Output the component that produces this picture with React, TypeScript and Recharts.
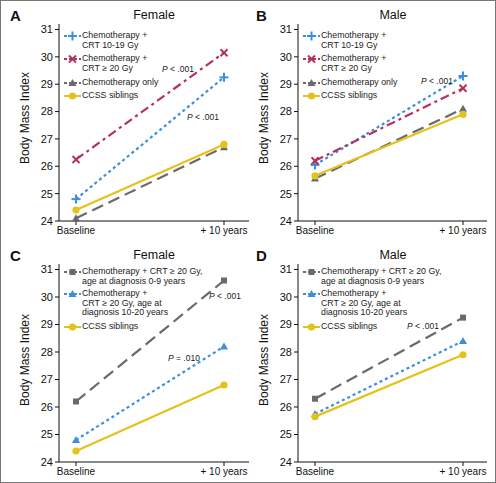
import React from "react";
import { Line, LineChart, XAxis, YAxis } from "recharts";

const timepoints = ["Baseline", "+ 10 years"];
const bmiTicks = [24, 25, 26, 27, 28, 29, 30, 31];

// A — female, by treatment
const femaleCrt1019 = [24.8, 29.25];
const femaleCrt20 = [26.25, 30.15];
const femaleChemoOnly = [24.1, 26.7];
const femaleSiblings = [24.4, 26.8];

// B — male, by treatment
const maleCrt1019 = [26.05, 29.3];
const maleCrt20 = [26.2, 28.85];
const maleChemoOnly = [25.55, 28.1];
const maleSiblings = [25.65, 27.9];

// C — female, CRT >= 20 Gy by age at diagnosis
const femaleAge09 = [26.2, 30.6];
const femaleAge1020 = [24.8, 28.2];

// D — male, CRT >= 20 Gy by age at diagnosis
const maleAge09 = [26.3, 29.25];
const maleAge1020 = [25.75, 28.4];

const BLUE = "#3b8fe0";
const RED = "#b2345a";
const GRAY = "#6a6a6a";
const YELLOW = "#e4c21c";
const FONT = "'Liberation Sans', Arial, Helvetica, sans-serif";

type MarkerKind = "plus" | "cross" | "triangle" | "circle" | "square";

function Marker({ kind, cx, cy, color }: { kind: MarkerKind; cx: number; cy: number; color: string }) {
  if (kind === "plus")
    return (
      <g stroke={color} strokeWidth={2}>
        <line x1={cx - 4.5} y1={cy} x2={cx + 4.5} y2={cy} />
        <line x1={cx} y1={cy - 4.5} x2={cx} y2={cy + 4.5} />
      </g>
    );
  if (kind === "cross")
    return (
      <g stroke={color} strokeWidth={2}>
        <line x1={cx - 3.5} y1={cy - 3.5} x2={cx + 3.5} y2={cy + 3.5} />
        <line x1={cx - 3.5} y1={cy + 3.5} x2={cx + 3.5} y2={cy - 3.5} />
      </g>
    );
  if (kind === "triangle")
    return <polygon points={`${cx},${cy - 4} ${cx - 4},${cy + 3} ${cx + 4},${cy + 3}`} fill={color} />;
  if (kind === "square") return <rect x={cx - 3} y={cy - 3} width={6} height={6} fill={color} />;
  return <circle cx={cx} cy={cy} r={3.6} fill={color} />;
}

interface SeriesDef {
  key: string;
  values: number[];
  color: string;
  dash?: string;
  marker: MarkerKind;
  label: string[];
}

interface PValue {
  text: string;
  x: number;
  y: number;
}

interface PanelProps {
  letter: string;
  title: string;
  left: number;
  top: number;
  height: number;
  axisX: number;
  series: SeriesDef[];
  legendTops: number[];
  pvals: PValue[];
}

const DOT = "3 3";
const DASHDOT = "9 4 3 4";
const LONGDASH = "12 6";

function Panel({ letter, title, left, top, height, axisX, series, legendTops, pvals }: PanelProps) {
  const data = timepoints.map((t, i) => {
    const row: Record<string, string | number> = { t };
    series.forEach((s) => (row[s.key] = s.values[i]));
    return row;
  });
  const plotRight = axisX === 58 ? 248 : 238;
  const bottomExtra = height - 220 - 20;
  const text = { position: "absolute" as const, fontFamily: FONT, color: "#111", whiteSpace: "nowrap" as const };

  return (
    <div style={{ position: "absolute", left, top, width: 248, height }}>
      <LineChart
        width={248}
        height={height}
        data={data}
        margin={{ top: 23, right: 248 - plotRight, bottom: bottomExtra + (height === 240 ? 0 : -1), left: axisX - 40 }}
      >
        <XAxis
          dataKey="t"
          padding={{ left: 17, right: plotRight - axisX - 17 - 148 }}
          tick={{ fill: "#111", fontSize: 10, fontFamily: FONT }}
          tickLine={{ stroke: "#111" }}
          axisLine={{ stroke: "#111" }}
          tickSize={4}
          height={20}
        />
        <YAxis
          domain={[24, 31.2]}
          ticks={bmiTicks}
          width={40}
          tick={{ fill: "#111", fontSize: 11, fontFamily: FONT }}
          tickLine={{ stroke: "#111" }}
          axisLine={{ stroke: "#111" }}
          tickSize={4}
        />
        {series.map((s) => (
          <Line
            key={s.key}
            dataKey={s.key}
            stroke={s.color}
            strokeWidth={2.2}
            strokeDasharray={s.dash}
            isAnimationActive={false}
            dot={(p: any) => <Marker key={`${s.key}-${p.index}`} kind={s.marker} cx={p.cx} cy={p.cy} color={s.color} />}
            activeDot={false}
          />
        ))}
      </LineChart>

      <div style={{ ...text, left: letter === "A" || letter === "C" ? 9 : 7, top: 6, fontSize: 15, fontWeight: 700 }}>
        {letter}
      </div>
      <div style={{ ...text, left: axisX + 95, top: 7, fontSize: 12.5, transform: "translateX(-50%)" }}>{title}</div>
      <div
        style={{
          ...text,
          left: axisX - 34,
          top: height / 2 - 3,
          fontSize: 12,
          transform: "translate(-50%, -50%) rotate(-90deg)",
        }}
      >
        Body Mass Index
      </div>

      {series.map((s, i) => (
        <div key={s.key} style={{ position: "absolute", left: axisX + 5, top: legendTops[i] }}>
          <svg width={17} height={10} style={{ position: "absolute", left: 0, top: 0 }}>
            <line x1={0} y1={5} x2={17} y2={5} stroke={s.color} strokeWidth={2} strokeDasharray={s.dash ? "3 2" : undefined} />
            <Marker kind={s.marker} cx={8.5} cy={5} color={s.color} />
          </svg>
          <div style={{ ...text, left: 18, top: 0, fontSize: 8.8, lineHeight: "9.6px", color: "#222" }}>
            {s.label.map((l) => (
              <div key={l}>{l}</div>
            ))}
          </div>
        </div>
      ))}

      {pvals.map((p) => (
        <div key={p.text + p.x} style={{ ...text, left: p.x, top: p.y - 5, fontSize: 8.5, color: "#222" }}>
          <i>P</i>
          {p.text}
        </div>
      ))}
    </div>
  );
}

const treatmentLabels = {
  crt1019: ["Chemotherapy +", "CRT 10-19 Gy"],
  crt20: ["Chemotherapy +", "CRT \u2265 20 Gy"],
  chemo: ["Chemotherapy only"],
  sib: ["CCSS siblings"],
  age09: ["Chemotherapy + CRT \u2265 20 Gy,", "age at diagnosis 0-9 years"],
  age1020: ["Chemotherapy +", "CRT \u2265 20 Gy, age at", "diagnosis 10-20 years"],
};

export default function App() {
  const byTreatment = (a: number[], b: number[], c: number[], d: number[]): SeriesDef[] => [
    { key: "crt1019", values: a, color: BLUE, dash: DOT, marker: "plus", label: treatmentLabels.crt1019 },
    { key: "crt20", values: b, color: RED, dash: DASHDOT, marker: "cross", label: treatmentLabels.crt20 },
    { key: "chemo", values: c, color: GRAY, dash: LONGDASH, marker: "triangle", label: treatmentLabels.chemo },
    { key: "sib", values: d, color: YELLOW, marker: "circle", label: treatmentLabels.sib },
  ];
  const byAge = (a: number[], b: number[], d: number[]): SeriesDef[] => [
    { key: "age09", values: a, color: GRAY, dash: LONGDASH, marker: "square", label: treatmentLabels.age09 },
    { key: "age1020", values: b, color: BLUE, dash: DOT, marker: "triangle", label: treatmentLabels.age1020 },
    { key: "sib", values: d, color: YELLOW, marker: "circle", label: treatmentLabels.sib },
  ];

  return (
    <div
      style={{
        position: "absolute",
        left: 0,
        top: 0,
        width: 496,
        height: 483,
        background: "#fff",
        border: "1px solid #777",
        boxSizing: "border-box",
        overflow: "hidden",
      }}
    >
      <Panel
        letter="A"
        title="Female"
        left={0}
        top={0}
        height={240}
        axisX={58}
        series={byTreatment(femaleCrt1019, femaleCrt20, femaleChemoOnly, femaleSiblings)}
        legendTops={[30, 53, 77, 90]}
        pvals={[
          { text: " < .001", x: 161, y: 68 },
          { text: " < .001", x: 186, y: 116 },
        ]}
      />
      <Panel
        letter="B"
        title="Male"
        left={248}
        top={0}
        height={240}
        axisX={49}
        series={byTreatment(maleCrt1019, maleCrt20, maleChemoOnly, maleSiblings)}
        legendTops={[30, 53, 77, 90]}
        pvals={[{ text: " < .001", x: 172, y: 80 }]}
      />
      <Panel
        letter="C"
        title="Female"
        left={0}
        top={240}
        height={243}
        axisX={58}
        series={byAge(femaleAge09, femaleAge1020, femaleSiblings)}
        legendTops={[26, 48, 81]}
        pvals={[
          { text: " < .001", x: 208, y: 55 },
          { text: " = .010", x: 167, y: 117 },
        ]}
      />
      <Panel
        letter="D"
        title="Male"
        left={248}
        top={240}
        height={243}
        axisX={49}
        series={byAge(maleAge09, maleAge1020, maleSiblings)}
        legendTops={[26, 48, 81]}
        pvals={[{ text: " < .001", x: 158, y: 85 }]}
      />
    </div>
  );
}
